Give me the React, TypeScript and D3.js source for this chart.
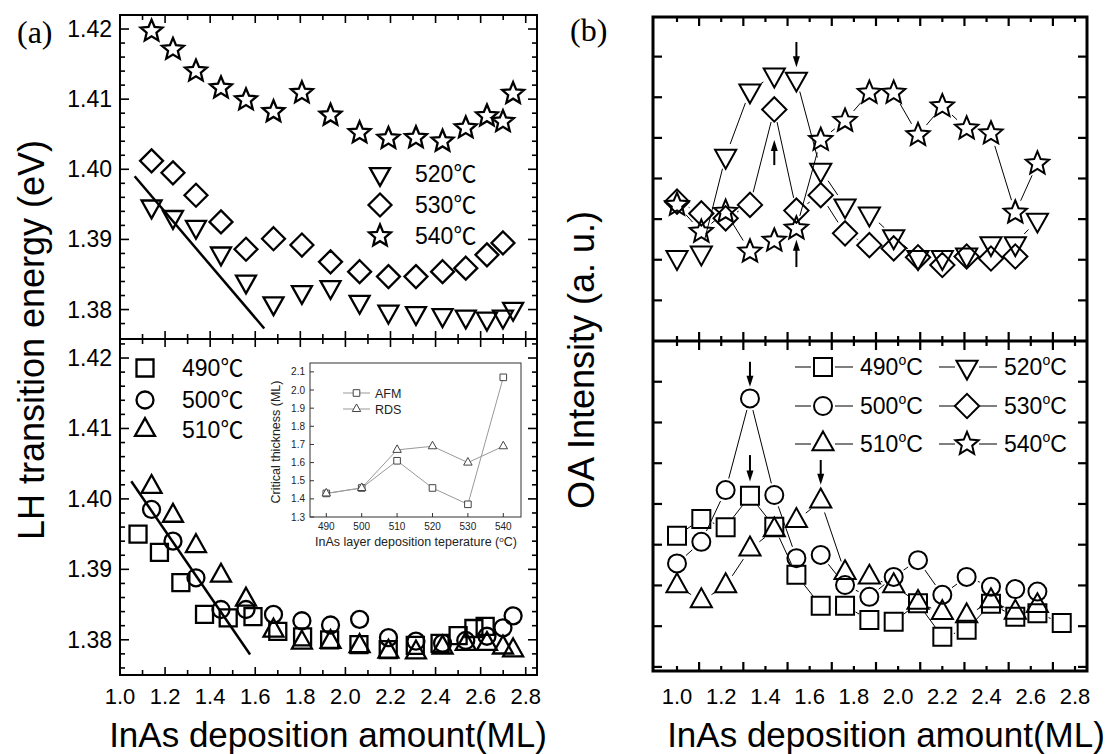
import React from "react";
import * as d3 from "d3";

// ---------------- Panel (a): LH transition energy ----------------
const xA = [1.14, 1.235, 1.337, 1.448, 1.559, 1.681, 1.807, 1.934, 2.063, 2.191, 2.313, 2.431, 2.534, 2.628, 2.699, 2.744];
const lh520 = [1.3947, 1.3932, 1.3918, 1.388, 1.384, 1.3809, 1.3825, 1.3832, 1.3811, 1.3797, 1.3795, 1.3792, 1.379, 1.3787, 1.379, 1.3801];
const lh530 = [1.4012, 1.3995, 1.3963, 1.3925, 1.3886, 1.3901, 1.3892, 1.3868, 1.3854, 1.3847, 1.3847, 1.3854, 1.3859, 1.3878, 1.3895];
const lh540 = [1.4197, 1.4171, 1.414, 1.4116, 1.4099, 1.4082, 1.4109, 1.4077, 1.4052, 1.4044, 1.4045, 1.404, 1.4059, 1.4076, 1.4068, 1.4108];
const xA490 = [1.08, 1.175, 1.27, 1.375, 1.48, 1.59, 1.7, 1.81, 1.93, 2.06, 2.19, 2.31, 2.42, 2.5, 2.57, 2.62];
const lh490 = [1.395, 1.3924, 1.3881, 1.3836, 1.3831, 1.3833, 1.3812, 1.3804, 1.38, 1.3793, 1.3786, 1.3792, 1.3795, 1.3806, 1.3816, 1.3819];
const lh500 = [1.3985, 1.394, 1.3888, 1.3843, 1.3843, 1.3836, 1.3827, 1.3821, 1.3829, 1.3803, 1.3798, 1.3795, 1.3799, 1.3805, 1.3817, 1.3834];
const lh510 = [1.4017, 1.3976, 1.3933, 1.3891, 1.3857, 1.3813, 1.3796, 1.3797, 1.3791, 1.3783, 1.3782, 1.3789, 1.3794, 1.3794, 1.3789, 1.3785];
const fitTop: [number, number][] = [[1.065, 1.399], [1.64, 1.3773]];
const fitBottom: [number, number][] = [[1.05, 1.4025], [1.577, 1.3779]];
const xTickLabelsA = [1.0, 1.2, 1.4, 1.6, 1.8, 2.0, 2.2, 2.4, 2.6, 2.8];
const yTickLabelsA = [1.38, 1.39, 1.4, 1.41, 1.42];

// inset
const insetTemps = [490, 500, 510, 520, 530, 540];
const afm = [1.43, 1.46, 1.61, 1.46, 1.37, 2.07];
const rds = [1.43, 1.46, 1.67, 1.69, 1.6, 1.69];
const insetYTicks = [1.3, 1.4, 1.5, 1.6, 1.7, 1.8, 1.9, 2.0, 2.1];

// ---------------- Panel (b): OA intensity ----------------
const xB = [1.0, 1.11, 1.22, 1.33, 1.44, 1.54, 1.65, 1.76, 1.87, 1.98, 2.09, 2.2, 2.31, 2.42, 2.53, 2.63, 2.74];
const oa520 = [2.06, 2.17, 4.55, 6.16, 6.55, 6.45, 4.21, 3.33, 3.13, 2.57, 2.06, 2.06, 2.12, 2.4, 2.4, 2.98];
const oa530 = [3.43, 3.14, 3.02, 3.35, 5.7, 3.21, 3.59, 2.65, 2.36, 2.28, 2.06, 1.87, 2.08, 2.03, 2.08];
const oa540 = [3.35, 2.69, 3.18, 2.2, 2.47, 2.77, 4.95, 5.42, 6.11, 6.11, 5.07, 5.78, 5.23, 5.11, 3.16, 4.37];
const oa490 = [4.22, 4.63, 4.43, 5.2, 4.44, 3.26, 2.5, 2.5, 2.15, 2.11, 2.56, 1.74, 1.91, 2.55, 2.23, 2.32, 2.08];
const oa500 = [3.54, 4.07, 5.34, 7.59, 5.22, 3.67, 3.75, 3.01, 2.72, 3.21, 3.62, 2.77, 3.21, 2.97, 2.91, 2.85];
const oa510 = [2.99, 2.62, 2.99, 3.89, 4.36, 4.59, 5.07, 3.31, 3.2, 2.99, 2.58, 2.33, 2.25, 2.62, 2.34, 2.5];
const xTickLabelsB = [1.0, 1.2, 1.4, 1.6, 1.8, 2.0, 2.2, 2.4, 2.6, 2.8];
// arrows: [column index, tail value, head value]
const arrowsTop: [number, number, number][] = [[5, 7.36, 6.74], [4, 4.33, 4.95], [5, 1.82, 2.49]];
const arrowsBot: [number, number, number][] = [[3, 8.49, 7.88], [3, 6.2, 5.55], [6, 6.08, 5.47]];

type Kind = "square" | "circle" | "up" | "down" | "diamond" | "star";

function markerPath(kind: Kind, s: number): string {
  const type = {
    draw(ctx: any) {
      if (kind === "square") {
        ctx.rect(-s, -s, 2 * s, 2 * s);
      } else if (kind === "circle") {
        ctx.moveTo(s, 0);
        ctx.arc(0, 0, s, 0, 2 * Math.PI);
      } else if (kind === "up" || kind === "down") {
        const w = 2.35 * s, h = 2.1 * s, k = kind === "up" ? 1 : -1;
        ctx.moveTo(0, (-k * 2 * h) / 3);
        ctx.lineTo(w / 2, (k * h) / 3);
        ctx.lineTo(-w / 2, (k * h) / 3);
        ctx.closePath();
      } else if (kind === "diamond") {
        const a = 1.35 * s;
        ctx.moveTo(0, -a);
        ctx.lineTo(a, 0);
        ctx.lineTo(0, a);
        ctx.lineTo(-a, 0);
        ctx.closePath();
      } else {
        const R = 1.35 * s, r = R * 0.45;
        for (let i = 0; i < 10; i++) {
          const ang = -Math.PI / 2 + (i * Math.PI) / 5;
          const rr = i % 2 === 0 ? R : r;
          const px = rr * Math.cos(ang), py = rr * Math.sin(ang);
          if (i === 0) ctx.moveTo(px, py);
          else ctx.lineTo(px, py);
        }
        ctx.closePath();
      }
    },
  };
  return (d3.symbol().type(type as any) as any)() || "";
}

function gapLines(pts: [number, number][], gap: number) {
  const segs: number[][] = [];
  for (let i = 0; i < pts.length - 1; i++) {
    const [x1, y1] = pts[i];
    const [x2, y2] = pts[i + 1];
    const dx = x2 - x1, dy = y2 - y1;
    const L = Math.hypot(dx, dy);
    if (L <= 2 * gap + 1) continue;
    const ux = dx / L, uy = dy / L;
    segs.push([x1 + ux * gap, y1 + uy * gap, x2 - ux * gap, y2 - uy * gap]);
  }
  return segs;
}

const FONT = "'Liberation Sans', Arial, 'Noto Sans CJK SC', sans-serif";

// Layout
const LA = { x0: 120, x1: 537, yTop: 15, yMid: 339, yBot: 675 };
const RB = { x0: 653, x1: 1087, yTop: 17, yMid: 341, yBot: 671 };

const xScaleA = d3.scaleLinear().domain([1.0, 2.85]).range([LA.x0, LA.x1]);
const yTopA = d3.scaleLinear().domain([1.3758, 1.422]).range([LA.yMid, LA.yTop]);
const yBotA = d3.scaleLinear().domain([1.375, 1.4227]).range([LA.yBot, LA.yMid]);

const xScaleB = d3.scaleLinear().domain([1.0, 2.8]).range([677, 1075]);
const yTopB = d3.scaleLinear().domain([0, 8]).range([341, 16]);
const yBotB = d3.scaleLinear().domain([0.9, 9]).range([671, 341]);

const insetX = d3.scaleLinear().domain([485.4, 545]).range([310, 521]);
const insetY = d3.scaleLinear().domain([1.3, 2.149]).range([517, 363]);

function Markers({ xs, ys, kind, s, sw, xScale, yScale }: any) {
  const d = markerPath(kind, s);
  return (
    <g>
      {ys.map((v: number, i: number) => (
        <path key={i} d={d} transform={`translate(${xScale(xs[i])},${yScale(v)})`} fill="none" stroke="#000" strokeWidth={sw} strokeLinejoin="miter" />
      ))}
    </g>
  );
}

function ConnLines({ xs, ys, xScale, yScale, gap }: any) {
  const pts: [number, number][] = ys.map((v: number, i: number) => [xScale(xs[i]), yScale(v)]);
  return (
    <g>
      {gapLines(pts, gap).map((s, i) => (
        <line key={i} x1={s[0]} y1={s[1]} x2={s[2]} y2={s[3]} stroke="#000" strokeWidth={1} />
      ))}
    </g>
  );
}

function Arrow({ x, y1, y2 }: { x: number; y1: number; y2: number }) {
  const dir = y2 > y1 ? 1 : -1;
  return (
    <g>
      <line x1={x} y1={y1} x2={x} y2={y2 - dir * 8} stroke="#000" strokeWidth={2} />
      <path d={`M${x},${y2} L${x - 3.5},${y2 - dir * 11} L${x + 3.5},${y2 - dir * 11} Z`} fill="#000" />
    </g>
  );
}

function LeftTicks() {
  const els: any[] = [];
  const xt = d3.range(11, 29).map((d) => d / 10);
  xt.forEach((t, i) => {
    const x = xScaleA(t);
    const long = Math.round(t * 10) % 2 === 0;
    const L = long ? 8 : 5;
    // top of top panel, both sides of divider, bottom
    els.push(<line key={"a" + i} x1={x} x2={x} y1={LA.yTop} y2={LA.yTop + L} />);
    els.push(<line key={"b" + i} x1={x} x2={x} y1={LA.yMid} y2={LA.yMid - L} />);
    els.push(<line key={"c" + i} x1={x} x2={x} y1={LA.yMid} y2={LA.yMid + L} />);
    els.push(<line key={"d" + i} x1={x} x2={x} y1={LA.yBot} y2={LA.yBot - L} />);
  });
  const yt = d3.range(1376, 1424, 2).map((d) => d / 1000);
  [yTopA, yBotA].forEach((ys, pi) => {
    const [r0, r1] = ys.range();
    yt.forEach((t, i) => {
      const y = ys(t);
      if (y > r0 - 3 || y < r1 + 3) return;
      const major = Math.round(t * 1000) % 10 === 0;
      const L = major ? 9 : 5;
      els.push(<line key={`y${pi}l${i}`} x1={LA.x0} x2={LA.x0 + L} y1={y} y2={y} />);
      els.push(<line key={`y${pi}r${i}`} x1={LA.x1} x2={LA.x1 - L} y1={y} y2={y} />);
    });
  });
  return <g stroke="#000" strokeWidth={1.6}>{els}</g>;
}

function RightTicks() {
  const els: any[] = [];
  const xt = d3.range(10, 29).map((d) => d / 10);
  xt.forEach((t, i) => {
    const x = xScaleB(t);
    const long = Math.round(t * 10) % 2 === 1;
    const L = long ? 9 : 5;
    els.push(<line key={"a" + i} x1={x} x2={x} y1={RB.yTop} y2={RB.yTop + L} />);
    els.push(<line key={"b" + i} x1={x} x2={x} y1={RB.yMid} y2={RB.yMid - L} />);
    els.push(<line key={"c" + i} x1={x} x2={x} y1={RB.yMid} y2={RB.yMid + L} />);
    els.push(<line key={"d" + i} x1={x} x2={x} y1={RB.yBot} y2={RB.yBot - L} />);
  });
  d3.range(1, 8).forEach((t) => {
    const y = yTopB(t);
    els.push(<line key={"tl" + t} x1={RB.x0} x2={RB.x0 + 9} y1={y} y2={y} />);
    els.push(<line key={"tr" + t} x1={RB.x1} x2={RB.x1 - 9} y1={y} y2={y} />);
  });
  d3.range(1, 9).forEach((t) => {
    const y = yBotB(t);
    els.push(<line key={"bl" + t} x1={RB.x0} x2={RB.x0 + 9} y1={y} y2={y} />);
    els.push(<line key={"br" + t} x1={RB.x1} x2={RB.x1 - 9} y1={y} y2={y} />);
  });
  return <g stroke="#000" strokeWidth={2.2}>{els}</g>;
}

function DegLabel({ x, y, t }: { x: number; y: number; t: string }) {
  return (
    <text x={x} y={y} fontSize={23}>
      {t}
      <tspan dy={-10} fontSize={14}>o</tspan>
      <tspan dy={10}>C</tspan>
    </text>
  );
}

function LegendB({ x, y, kind, label }: any) {
  const d = markerPath(kind, 9);
  const mx = x + 28;
  return (
    <g>
      <line x1={x} x2={mx - 12} y1={y} y2={y} stroke="#000" strokeWidth={1} />
      <line x1={mx + 12} x2={x + 58} y1={y} y2={y} stroke="#000" strokeWidth={1} />
      <path d={d} transform={`translate(${mx},${y})`} fill="none" stroke="#000" strokeWidth={2} />
      <DegLabel x={x + 65} y={y + 8} t={label} />
    </g>
  );
}

function Inset() {
  const sq = markerPath("square", 3.3);
  const tr = markerPath("up", 3.6);
  const lineA = d3.line<number>().x((_, i) => insetX(insetTemps[i])).y((v) => insetY(v));
  return (
    <g>
      <rect x={310} y={363} width={211} height={154} fill="#fff" stroke="#333" strokeWidth={1} />
      {insetTemps.map((t) => (
        <g key={t}>
          <line x1={insetX(t)} x2={insetX(t)} y1={517} y2={513} stroke="#333" />
          <text x={insetX(t)} y={530} fontSize={10} textAnchor="middle" fill="#222">{t}</text>
        </g>
      ))}
      {insetYTicks.map((t) => (
        <g key={t}>
          <line x1={310} x2={314} y1={insetY(t)} y2={insetY(t)} stroke="#333" />
          <text x={305} y={insetY(t) + 3.5} fontSize={10} textAnchor="end" fill="#222">{t.toFixed(1)}</text>
        </g>
      ))}
      <path d={lineA(afm) || ""} fill="none" stroke="#999" strokeWidth={1} />
      <path d={lineA(rds) || ""} fill="none" stroke="#999" strokeWidth={1} />
      {afm.map((v, i) => (
        <path key={"a" + i} d={sq} transform={`translate(${insetX(insetTemps[i])},${insetY(v)})`} fill="#fff" stroke="#444" strokeWidth={1} />
      ))}
      {rds.map((v, i) => (
        <path key={"r" + i} d={tr} transform={`translate(${insetX(insetTemps[i])},${insetY(v)})`} fill="#fff" stroke="#444" strokeWidth={1} />
      ))}
      <line x1={343} x2={370} y1={393} y2={393} stroke="#999" />
      <path d={sq} transform="translate(356.5,393)" fill="#fff" stroke="#444" />
      <text x={375} y={397.5} fontSize={12.5} fill="#222">AFM</text>
      <line x1={343} x2={370} y1={409} y2={409} stroke="#999" />
      <path d={tr} transform="translate(356.5,409)" fill="#fff" stroke="#444" />
      <text x={375} y={413.5} fontSize={12.5} fill="#222">RDS</text>
      <text x={416} y={546} fontSize={12.5} textAnchor="middle" fill="#222">
        InAs layer deposition teperature (<tspan dy={-4} fontSize={8}>o</tspan><tspan dy={4}>C)</tspan>
      </text>
      <text transform="translate(280,442) rotate(-90)" fontSize={12.5} textAnchor="middle" fill="#222">
        Critical thickness (ML)
      </text>
    </g>
  );
}

export default function App() {
  const sA = 8.5, swA = 2.3;
  const sB = 9, swB = 2;
  return (
    <svg width={1108} height={754} style={{ position: "absolute", left: 0, top: 0, background: "#fff" }} fontFamily={FONT}>
      <rect x={0} y={0} width={1108} height={754} fill="#fff" />
      {/* ---------- Panel (a) ---------- */}
      <text x={17} y={43} fontSize={32} fontFamily="'Liberation Serif', 'Times New Roman', serif">(a)</text>
      <rect x={LA.x0} y={LA.yTop} width={LA.x1 - LA.x0} height={LA.yBot - LA.yTop} fill="none" stroke="#000" strokeWidth={2} />
      <line x1={LA.x0} x2={LA.x1} y1={LA.yMid} y2={LA.yMid} stroke="#000" strokeWidth={2} />
      <LeftTicks />
      {yTickLabelsA.map((t) => (
        <g key={t}>
          <text x={112} y={yTopA(t) + 8} fontSize={23} textAnchor="end">{t.toFixed(2)}</text>
          <text x={112} y={yBotA(t) + 8} fontSize={23} textAnchor="end">{t.toFixed(2)}</text>
        </g>
      ))}
      {xTickLabelsA.map((t) => (
        <text key={t} x={xScaleA(t)} y={704} fontSize={22} textAnchor="middle">{t.toFixed(1)}</text>
      ))}
      <text x={328} y={747} fontSize={35} textAnchor="middle">InAs deposition amount(ML)</text>
      <text transform="translate(44,340) rotate(-90)" fontSize={36} textAnchor="middle">LH transition energy (eV)</text>

      {/* top-left series */}
      <line x1={xScaleA(fitTop[0][0])} y1={yTopA(fitTop[0][1])} x2={xScaleA(fitTop[1][0])} y2={yTopA(fitTop[1][1])} stroke="#000" strokeWidth={2.5} />
      <Markers xs={xA} ys={lh520} kind="down" s={sA} sw={swA} xScale={xScaleA} yScale={yTopA} />
      <Markers xs={xA} ys={lh530} kind="diamond" s={sA} sw={swA} xScale={xScaleA} yScale={yTopA} />
      <Markers xs={xA} ys={lh540} kind="star" s={sA} sw={swA} xScale={xScaleA} yScale={yTopA} />
      {[
        ["down", "520", 174],
        ["diamond", "530", 205],
        ["star", "540", 236],
      ].map(([k, t, y]: any) => (
        <g key={t}>
          <path d={markerPath(k, sA)} transform={`translate(380,${y})`} fill="none" stroke="#000" strokeWidth={swA} />
          <text x={415} y={y + 8} fontSize={23}>{t}℃</text>
        </g>
      ))}

      {/* bottom-left series */}
      <line x1={xScaleA(fitBottom[0][0])} y1={yBotA(fitBottom[0][1])} x2={xScaleA(fitBottom[1][0])} y2={yBotA(fitBottom[1][1])} stroke="#000" strokeWidth={2.5} />
      <Markers xs={xA490} ys={lh490} kind="square" s={sA} sw={swA} xScale={xScaleA} yScale={yBotA} />
      <Markers xs={xA} ys={lh500} kind="circle" s={sA} sw={swA} xScale={xScaleA} yScale={yBotA} />
      <Markers xs={xA} ys={lh510} kind="up" s={sA} sw={swA} xScale={xScaleA} yScale={yBotA} />
      {[
        ["square", "490", 368],
        ["circle", "500", 400],
        ["up", "510", 430],
      ].map(([k, t, y]: any) => (
        <g key={t}>
          <path d={markerPath(k, sA)} transform={`translate(145,${y})`} fill="none" stroke="#000" strokeWidth={swA} />
          <text x={182} y={y + 8} fontSize={23}>{t}℃</text>
        </g>
      ))}
      <Inset />

      {/* ---------- Panel (b) ---------- */}
      <text x={570} y={41} fontSize={32} fontFamily="'Liberation Serif', 'Times New Roman', serif">(b)</text>
      <rect x={RB.x0} y={RB.yTop} width={RB.x1 - RB.x0} height={RB.yBot - RB.yTop} fill="none" stroke="#000" strokeWidth={3} />
      <line x1={RB.x0} x2={RB.x1} y1={RB.yMid} y2={RB.yMid} stroke="#000" strokeWidth={3} />
      <RightTicks />
      {xTickLabelsB.map((t) => (
        <text key={t} x={xScaleB(t)} y={704} fontSize={22} textAnchor="middle">{t.toFixed(1)}</text>
      ))}
      <text x={886} y={747} fontSize={35} textAnchor="middle">InAs deposition amount(ML)</text>
      <text transform="translate(594,360) rotate(-90)" fontSize={36} textAnchor="middle">OA Intensity (a. u.)</text>

      {/* top-right */}
      <ConnLines xs={xB} ys={oa520} xScale={xScaleB} yScale={yTopB} gap={13} />
      <ConnLines xs={xB} ys={oa530} xScale={xScaleB} yScale={yTopB} gap={13} />
      <ConnLines xs={xB} ys={oa540} xScale={xScaleB} yScale={yTopB} gap={13} />
      <Markers xs={xB} ys={oa520} kind="down" s={sB} sw={swB} xScale={xScaleB} yScale={yTopB} />
      <Markers xs={xB} ys={oa530} kind="diamond" s={sB} sw={swB} xScale={xScaleB} yScale={yTopB} />
      <Markers xs={xB} ys={oa540} kind="star" s={sB} sw={swB} xScale={xScaleB} yScale={yTopB} />
      {arrowsTop.map(([c, a, b], i) => (
        <Arrow key={i} x={xScaleB(xB[c])} y1={yTopB(a)} y2={yTopB(b)} />
      ))}

      {/* bottom-right */}
      <ConnLines xs={xB} ys={oa490} xScale={xScaleB} yScale={yBotB} gap={12} />
      <ConnLines xs={xB} ys={oa500} xScale={xScaleB} yScale={yBotB} gap={12} />
      <ConnLines xs={xB} ys={oa510} xScale={xScaleB} yScale={yBotB} gap={12} />
      <Markers xs={xB} ys={oa490} kind="square" s={sB} sw={swB} xScale={xScaleB} yScale={yBotB} />
      <Markers xs={xB} ys={oa500} kind="circle" s={sB} sw={swB} xScale={xScaleB} yScale={yBotB} />
      <Markers xs={xB} ys={oa510} kind="up" s={sB} sw={swB} xScale={xScaleB} yScale={yBotB} />
      {arrowsBot.map(([c, a, b], i) => (
        <Arrow key={i} x={xScaleB(xB[c])} y1={yBotB(a)} y2={yBotB(b)} />
      ))}
      <LegendB x={795} y={367} kind="square" label="490" />
      <LegendB x={795} y={406} kind="circle" label="500" />
      <LegendB x={795} y={444} kind="up" label="510" />
      <LegendB x={939} y={367} kind="down" label="520" />
      <LegendB x={939} y={406} kind="diamond" label="530" />
      <LegendB x={939} y={444} kind="star" label="540" />
    </svg>
  );
}
